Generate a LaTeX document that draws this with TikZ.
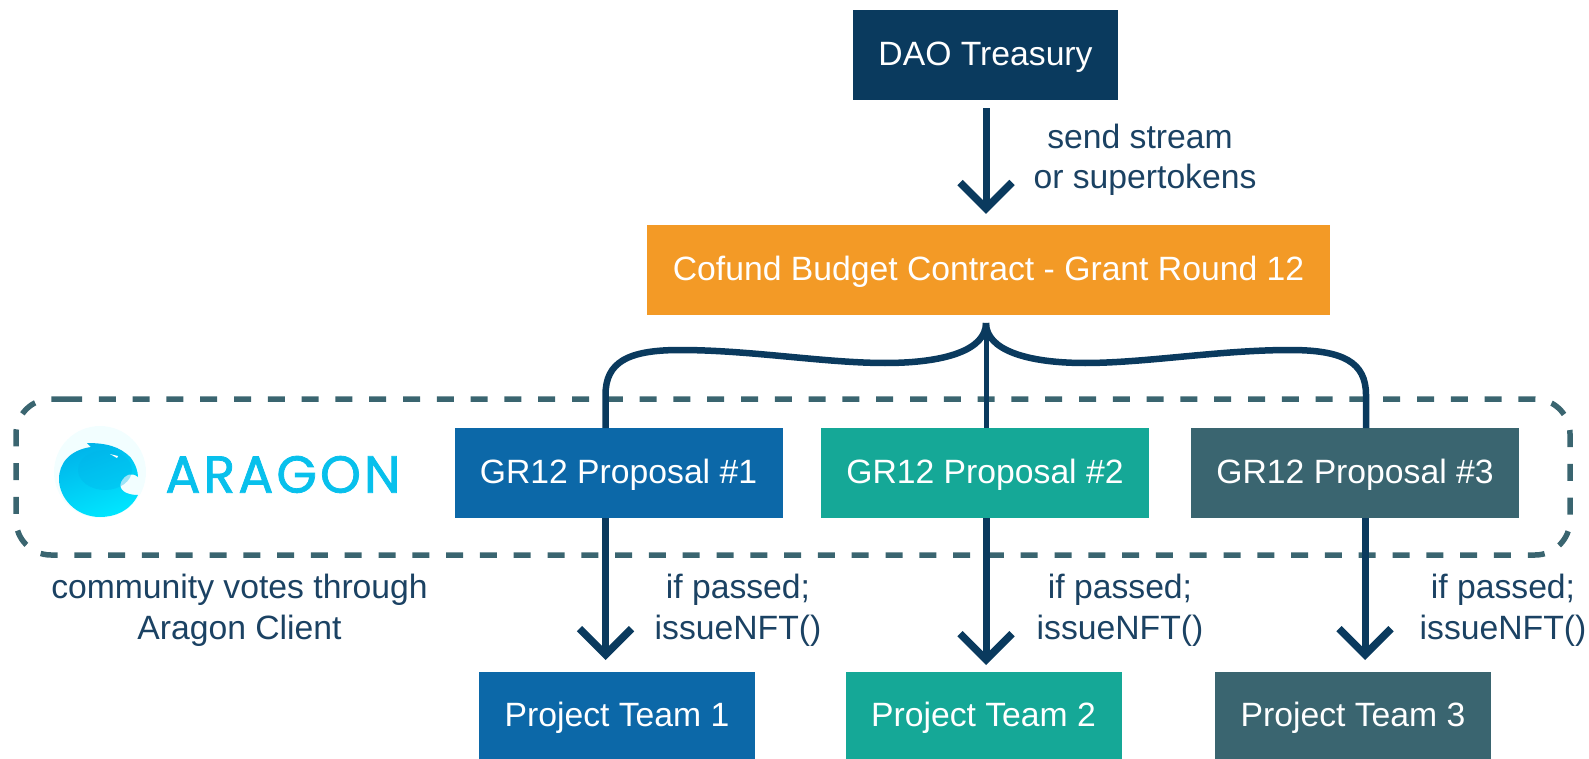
\documentclass[tikz,border=0pt]{standalone}
\usepackage{fontspec}
\setmainfont{Liberation Sans}
\newfontfamily\logofont[LetterSpace=6,FakeBold=1.5]{Poppins}
\usetikzlibrary{arrows.meta}
\definecolor{navy}{HTML}{0A3A5E}
\definecolor{labelc}{HTML}{1B4263}
\definecolor{orangeb}{HTML}{F39A26}
\definecolor{blueb}{HTML}{0C68A8}
\definecolor{tealb}{HTML}{15A897}
\definecolor{slateb}{HTML}{3A6570}
\definecolor{logoa}{HTML}{00E6FF}
\definecolor{logob}{HTML}{00B4EA}
\definecolor{logotxt}{HTML}{08C0EC}
\tikzset{
  boxn/.style={inner sep=0pt,text=white,font=\fontsize{33.7}{38}\selectfont,anchor=center,text height=26pt,text depth=5pt},
  propbox/.style={boxn,minimum width=328pt,minimum height=90pt},
  teambox/.style={boxn,minimum width=276pt,minimum height=87pt},
  lab/.style={text=labelc,font=\fontsize{33.7}{40.5}\selectfont,align=center,inner sep=0pt},
  conn/.style={draw=navy,line width=6.5pt},
  arrowc/.style={conn,line width=7pt,-{Straight Barb[length=26pt,width=52pt,line width=7.5pt]}}
}
\begin{document}
\begin{tikzpicture}[x=1pt,y=-1pt]
\useasboundingbox (0,0) rectangle (1589,759);
% dashed frame
\draw[slateb,line width=5.5pt,dash pattern=on 17pt off 16.8pt]
  (65,399) -- (1535,399) arc[start angle=-90,end angle=0,x radius=35pt,y radius=-35pt]
  -- (1570,520) arc[start angle=0,end angle=90,x radius=35pt,y radius=-35pt]
  -- (51,555) arc[start angle=90,end angle=180,x radius=35pt,y radius=-35pt]
  -- (16,434) arc[start angle=180,end angle=270,x radius=35pt,y radius=-35pt] -- cycle;
% boxes
\node[boxn,fill=navy,minimum width=265pt,minimum height=90pt] (dao) at (985.5,55) {DAO Treasury};
\node[boxn,fill=orangeb,minimum width=683pt,minimum height=90pt] (budget) at (988.5,270) {Cofund Budget Contract - Grant Round 12};
\node[propbox,fill=blueb] (p1) at (618.5,473) {GR12 Proposal \#1};
\node[propbox,fill=tealb] (p2) at (985,473) {GR12 Proposal \#2};
\node[propbox,fill=slateb] (p3) at (1355,473) {GR12 Proposal \#3};
\node[teambox,fill=blueb,anchor=north] (t1) at (617,672) {Project Team 1};
\node[teambox,fill=tealb,anchor=north] (t2) at (983.5,672) {Project Team 2};
\node[teambox,fill=slateb,anchor=north] (t3) at (1353,672) {Project Team 3};
% connectors
\coordinate (hub) at (986,323);
\coordinate (c1) at (605.5,428);
\coordinate (c3) at (1366,428);
\draw[arrowc,shorten <=8pt,shorten >=11pt] (dao.south -| hub) -- (budget.north -| hub);
\draw[conn,line width=5pt] (hub) -- (p2.north -| hub);
\draw[conn] (c1) -- (605.5,395)
  .. controls (605.5,362) and (628,350) .. (680,350)
  .. controls (750,350) and (825,363) .. (885,363)
  .. controls (945,363) and (986,350) .. (hub);
\draw[conn] (c3) -- (1366,395)
  .. controls (1366,362) and (1343,350) .. (1290,350)
  .. controls (1220,350) and (1145,363) .. (1085,363)
  .. controls (1027,363) and (986,350) .. (hub);
\draw[arrowc,shorten >=12pt] (c1 |- p1.south) -- (c1 |- t1.north);
\draw[arrowc,shorten >=7pt] (hub |- p2.south) -- (hub |- t2.north);
\draw[arrowc,shorten >=12pt] (1365,518) -- (1365,672);
% labels
\node[lab] (l0) at (1145,160) {send stream\hspace*{10pt}\\or supertokens};
\node[lab] (l1) at (738,610.5) {if passed;\\issueNFT()};
\node[lab] (l2) at (1120,610.5) {if passed;\\issueNFT()};
\node[lab] (l3) at (1503,610.5) {if passed;\\issueNFT()};
\node[lab] (l4) at (239.5,610.5) {community votes through\\Aragon Client};
% logo
\fill[logoa!5!white] (100,472) circle[radius=46pt];
\shade[top color=logob,bottom color=logoa,shading angle=20]
  (87,443) .. controls (105,443) and (120,446) .. (131,458)
  .. controls (136,465) and (138,472) .. (138,477)
  .. controls (132,472) and (125,474) .. (121,482)
  .. controls (118,490) and (126,495) .. (138,495)
  .. controls (130,511) and (115,517) .. (100,517)
  .. controls (76,517) and (59,498) .. (59,479)
  .. controls (59,463) and (70,450) .. (91,447) -- cycle;
\fill[logob,opacity=.35] (105,470) ellipse[x radius=27pt,y radius=20pt];
\fill[white] (110,454) -- (118,456) -- (117,458) -- cycle;
\node[inner sep=0pt,text=logotxt,font=\logofont\fontsize{52}{52}\selectfont] (logo) at (283,474.5) {ARAGON};
\end{tikzpicture}
\end{document}
